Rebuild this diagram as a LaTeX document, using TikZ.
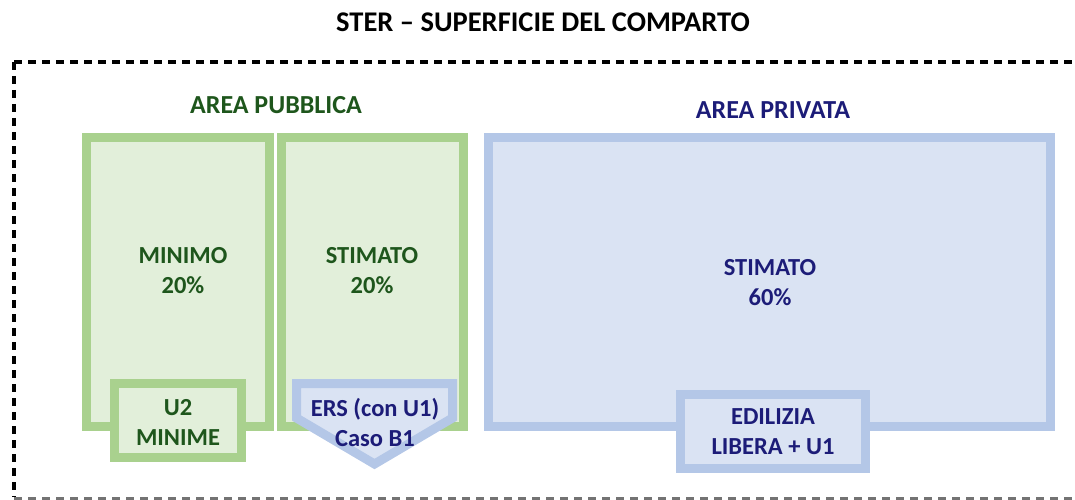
\documentclass[tikz,border=0pt]{standalone}
\usepackage{fontspec}
\setmainfont{Carlito}
\definecolor{gstroke}{HTML}{A9D18E}
\definecolor{gfill}{HTML}{E2EFDA}
\definecolor{bstroke}{HTML}{B4C7E7}
\definecolor{bfill}{HTML}{DAE3F3}
\definecolor{gtext}{HTML}{1E561C}
\definecolor{btext}{HTML}{1C1C78}
\begin{document}
\begin{tikzpicture}[x=1pt,y=-1pt,
  gbox/.style={draw=gstroke,fill=gfill,line width=9pt,line join=miter},
  bbox/.style={draw=bstroke,fill=bfill,line width=9pt,line join=miter},
  lbl/.style={font=\bfseries\fontsize{24.5}{30}\selectfont,align=center,inner sep=0pt},
  hdr/.style={font=\bfseries\fontsize{26}{30}\selectfont,align=center,inner sep=0pt},
  glbl/.style={lbl,text=gtext},
  blbl/.style={lbl,text=btext},
  frame/.style={draw=black,line width=4pt,dash pattern=on 8pt off 6pt}]
\useasboundingbox (0,0) rectangle (1075,500);
\begin{scope}
\clip (0,0) rectangle (1075,500);
\draw[frame] (14,62) -- (1090,62) (14,62) -- (14,497);
\draw[frame,draw=black!55,line width=3pt] (14,498) -- (1090,498);
\end{scope}
\node[hdr,text=black,font=\bfseries\fontsize{28.5}{32}\selectfont] (title) at (543,22) {STER – SUPERFICIE DEL COMPARTO};
\node[hdr,text=gtext] (apub) at (276,105) {AREA PUBBLICA};
\node[hdr,text=btext] (apriv) at (773,110) {AREA PRIVATA};
% main boxes
\draw[gbox] (86.5,137.5) rectangle (269.5,426.5);
\draw[gbox] (281.5,137.5) rectangle (463.5,426.5);
\draw[bbox] (488.5,137.5) rectangle (1050.5,426.5);
% sub boxes
\draw[gbox] (114.5,383.5) rectangle (241.5,457.5);
\draw[bbox] (296.5,383.5) -- (452.5,383.5) -- (452.5,418) -- (374.5,464) -- (296.5,418) -- cycle;
\draw[bbox] (680.5,394.5) rectangle (865.5,468.5);
% labels
\node[glbl] (minimo) at (183,271) {MINIMO\\20\%};
\node[glbl] (stimg) at (372,271) {STIMATO\\20\%};
\node[blbl] (stimb) at (770,283) {STIMATO\\60\%};
\node[glbl] (u2) at (178,422) {U2\\MINIME};
\node[blbl] (ers) at (375,422) {ERS (con U1)\\Caso B1};
\node[blbl] (edil) at (773,432) {EDILIZIA\\LIBERA + U1};
\end{tikzpicture}
\end{document}
